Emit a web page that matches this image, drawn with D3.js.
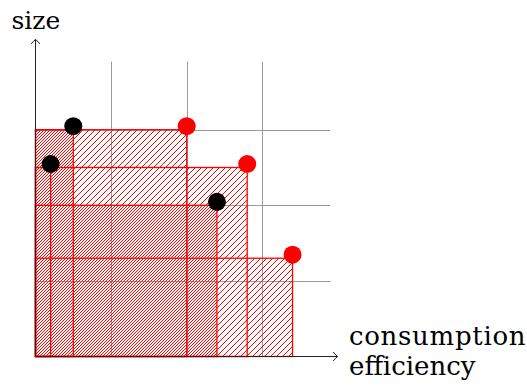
<!DOCTYPE html>
<html>
<head>
<meta charset="utf-8">
<script src="https://cdn.jsdelivr.net/npm/d3@7"></script>
<style>
  html, body { margin: 0; padding: 0; background: #fff; }
  svg { display: block; }
  text { font-family: "DejaVu Serif", serif; font-size: 25px; fill: #000; }
</style>
</head>
<body>
<svg id="chart" width="527" height="390"></svg>
<script>
// ---- data ----
const blackX = [0.5, 0.2, 2.4];
const blackY = [3.0, 2.5, 2.0];
const redX = [2.0, 2.8, 3.4];
const redY = [3.0, 2.5, 1.3];
const gridTicks = [1, 2, 3];
const xLabelLines = ["consumption", "efficiency"];
const yLabel = "size";

// ---- layout ----
const ox = 35.5, oy = 356.5, unit = 75.6;
const gridMax = 3.9;
const xAxisEnd = 3.99, yAxisEnd = 4.19;

const x = d3.scaleLinear().domain([0, 1]).range([ox, ox + unit]);
const y = d3.scaleLinear().domain([0, 1]).range([oy, oy - unit]);

const svg = d3.select("#chart");
const defs = svg.append("defs");

const points = [
  {x: blackX[0], y: blackY[0], c: "#000"},
  {x: redX[0], y: redY[0], c: "#f00"},
  {x: blackX[1], y: blackY[1], c: "#000"},
  {x: redX[1], y: redY[1], c: "#f00"},
  {x: blackX[2], y: blackY[2], c: "#000"},
  {x: redX[2], y: redY[2], c: "#f00"}
];

// grid
const g = svg.append("g");
g.selectAll("line.v").data(gridTicks).join("line")
  .attr("x1", d => Math.round(x(d)) + 0.5).attr("x2", d => Math.round(x(d)) + 0.5)
  .attr("y1", y(0)).attr("y2", y(gridMax))
  .attr("stroke", "#9a9a9a").attr("stroke-width", 1);
g.selectAll("line.h").data(gridTicks).join("line")
  .attr("y1", d => Math.round(y(d)) + 0.5).attr("y2", d => Math.round(y(d)) + 0.5)
  .attr("x1", x(0)).attr("x2", x(gridMax))
  .attr("stroke", "#9a9a9a").attr("stroke-width", 1);

// hatch patterns (north east lines); two phases so overlaps look denser
const period = 6;
const phases = [0, 3];
phases.forEach((ph, i) => {
  const pat = defs.append("pattern")
    .attr("id", "hatch" + i)
    .attr("patternUnits", "userSpaceOnUse")
    .attr("width", period).attr("height", period)
    .attr("x", ph).attr("y", 0);
  pat.append("path")
    .attr("d", `M-1,${period + 1} L${period + 1},-1 M-1,1 L1,-1 M${period - 1},${period + 1} L${period + 1},${period - 1}`)
    .attr("stroke", "#f00").attr("stroke-width", 1).attr("fill", "none");
});

// rectangles
svg.append("g").selectAll("rect").data(points).join("rect")
  .attr("x", x(0))
  .attr("y", d => y(d.y))
  .attr("width", d => x(d.x) - x(0))
  .attr("height", d => y(0) - y(d.y))
  .attr("fill", (d, i) => `url(#hatch${i % 2})`)
  .attr("stroke", "#f00").attr("stroke-width", 1.3);

// axes
const ax = svg.append("g").attr("stroke", "#222").attr("fill", "none").attr("stroke-width", 1);
ax.append("line").attr("x1", x(0)).attr("y1", y(0)).attr("x2", x(xAxisEnd)).attr("y2", y(0));
ax.append("line").attr("x1", x(0)).attr("y1", y(0)).attr("x2", x(0)).attr("y2", y(yAxisEnd));
const xe = x(xAxisEnd), ye = y(yAxisEnd);
ax.append("path").attr("d", `M${xe - 4},${y(0) - 4.5} Q${xe - 1},${y(0) - 1} ${xe + 0.5},${y(0)} Q${xe - 1},${y(0) + 1} ${xe - 4},${y(0) + 4.5}`);
ax.append("path").attr("d", `M${x(0) - 4.5},${ye + 4} Q${x(0) - 1},${ye + 1} ${x(0)},${ye - 0.5} Q${x(0) + 1},${ye + 1} ${x(0) + 4.5},${ye + 4}`);

// dots
svg.append("g").selectAll("circle").data(points).join("circle")
  .attr("cx", d => x(d.x))
  .attr("cy", d => y(d.y) - 3.5)
  .attr("r", 9)
  .attr("fill", d => d.c);

// labels
svg.append("text").attr("x", 11.5).attr("y", 29).text(yLabel);
svg.append("g").selectAll("text").data(xLabelLines).join("text")
  .attr("x", 349).attr("y", (d, i) => 345 + i * 30)
  .style("font-size", "26px")
  .attr("letter-spacing", (d, i) => i === 0 ? 0.7 : 0)
  .text(d => d);
</script>
</body>
</html>
